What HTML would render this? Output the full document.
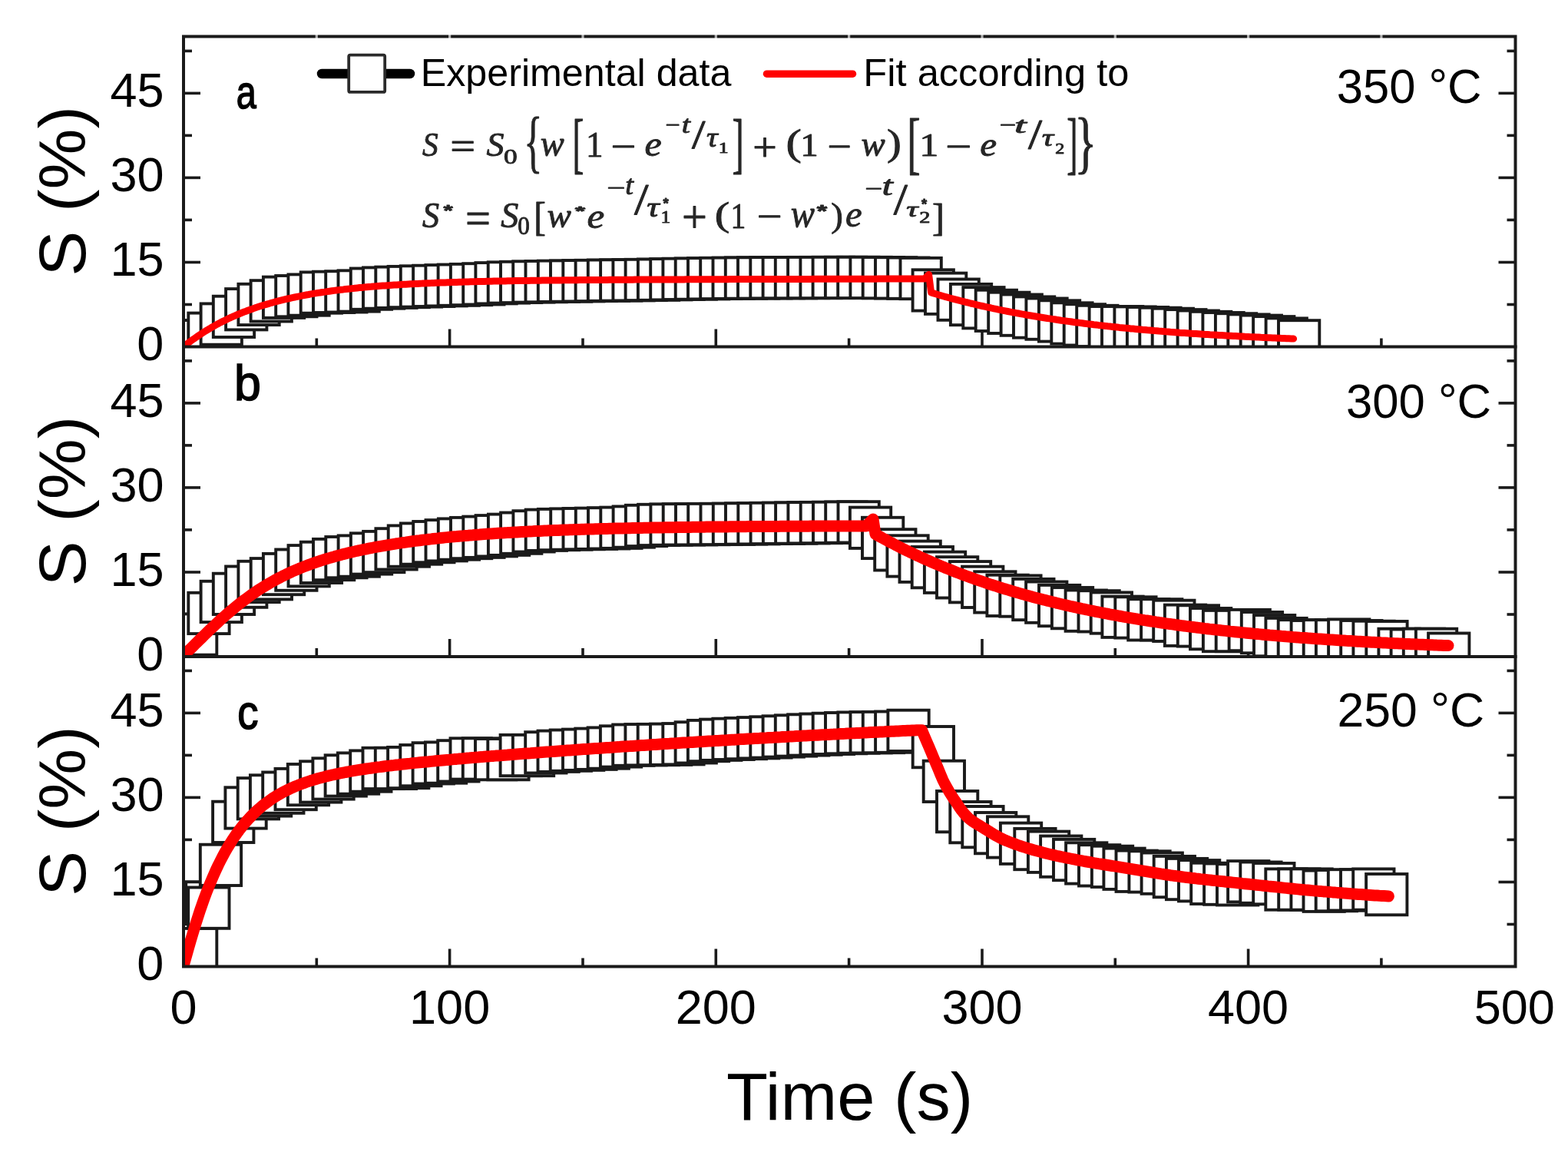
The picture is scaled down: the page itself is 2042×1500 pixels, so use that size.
<!DOCTYPE html>
<html><head><meta charset="utf-8"><title>S vs time</title>
<style>html,body{margin:0;padding:0;background:#fff;} svg{display:block;}</style>
</head><body>
<svg xmlns="http://www.w3.org/2000/svg" width="2042" height="1500" viewBox="0 0 2042 1500">
<defs>
<clipPath id="cp0"><rect x="239.0" y="47.5" width="1734.5" height="404.0"/></clipPath>
<clipPath id="cp1"><rect x="239.0" y="451.5" width="1734.5" height="403.5"/></clipPath>
<clipPath id="cp2"><rect x="239.0" y="855.0" width="1734.5" height="403.5"/></clipPath>
</defs>
<rect width="2042" height="1500" fill="#fff"/>
<g stroke="#1a1a1a" stroke-width="3.6" fill="none">
<line x1="239.0" y1="396.5" x2="250.0" y2="396.5"/>
<line x1="1973.5" y1="396.5" x2="1962.5" y2="396.5"/>
<line x1="239.0" y1="341.5" x2="261.0" y2="341.5"/>
<line x1="1973.5" y1="341.5" x2="1951.5" y2="341.5"/>
<line x1="239.0" y1="286.4" x2="250.0" y2="286.4"/>
<line x1="1973.5" y1="286.4" x2="1962.5" y2="286.4"/>
<line x1="239.0" y1="231.4" x2="261.0" y2="231.4"/>
<line x1="1973.5" y1="231.4" x2="1951.5" y2="231.4"/>
<line x1="239.0" y1="176.4" x2="250.0" y2="176.4"/>
<line x1="1973.5" y1="176.4" x2="1962.5" y2="176.4"/>
<line x1="239.0" y1="121.4" x2="261.0" y2="121.4"/>
<line x1="1973.5" y1="121.4" x2="1951.5" y2="121.4"/>
<line x1="239.0" y1="66.4" x2="250.0" y2="66.4"/>
<line x1="1973.5" y1="66.4" x2="1962.5" y2="66.4"/>
<line x1="412.3" y1="451.5" x2="412.3" y2="440.5"/>
<line x1="585.6" y1="451.5" x2="585.6" y2="428.5"/>
<line x1="759.0" y1="451.5" x2="759.0" y2="440.5"/>
<line x1="932.3" y1="451.5" x2="932.3" y2="428.5"/>
<line x1="1105.6" y1="451.5" x2="1105.6" y2="440.5"/>
<line x1="1279.0" y1="451.5" x2="1279.0" y2="428.5"/>
<line x1="1452.3" y1="451.5" x2="1452.3" y2="440.5"/>
<line x1="1625.6" y1="451.5" x2="1625.6" y2="428.5"/>
<line x1="1798.9" y1="451.5" x2="1798.9" y2="440.5"/>
<line x1="239.0" y1="800.0" x2="250.0" y2="800.0"/>
<line x1="1973.5" y1="800.0" x2="1962.5" y2="800.0"/>
<line x1="239.0" y1="745.0" x2="261.0" y2="745.0"/>
<line x1="1973.5" y1="745.0" x2="1951.5" y2="745.0"/>
<line x1="239.0" y1="689.9" x2="250.0" y2="689.9"/>
<line x1="1973.5" y1="689.9" x2="1962.5" y2="689.9"/>
<line x1="239.0" y1="634.9" x2="261.0" y2="634.9"/>
<line x1="1973.5" y1="634.9" x2="1951.5" y2="634.9"/>
<line x1="239.0" y1="579.9" x2="250.0" y2="579.9"/>
<line x1="1973.5" y1="579.9" x2="1962.5" y2="579.9"/>
<line x1="239.0" y1="524.9" x2="261.0" y2="524.9"/>
<line x1="1973.5" y1="524.9" x2="1951.5" y2="524.9"/>
<line x1="239.0" y1="469.9" x2="250.0" y2="469.9"/>
<line x1="1973.5" y1="469.9" x2="1962.5" y2="469.9"/>
<line x1="412.3" y1="855.0" x2="412.3" y2="844.0"/>
<line x1="585.6" y1="855.0" x2="585.6" y2="832.0"/>
<line x1="759.0" y1="855.0" x2="759.0" y2="844.0"/>
<line x1="932.3" y1="855.0" x2="932.3" y2="832.0"/>
<line x1="1105.6" y1="855.0" x2="1105.6" y2="844.0"/>
<line x1="1279.0" y1="855.0" x2="1279.0" y2="832.0"/>
<line x1="1452.3" y1="855.0" x2="1452.3" y2="844.0"/>
<line x1="1625.6" y1="855.0" x2="1625.6" y2="832.0"/>
<line x1="1798.9" y1="855.0" x2="1798.9" y2="844.0"/>
<line x1="239.0" y1="1203.5" x2="250.0" y2="1203.5"/>
<line x1="1973.5" y1="1203.5" x2="1962.5" y2="1203.5"/>
<line x1="239.0" y1="1148.5" x2="261.0" y2="1148.5"/>
<line x1="1973.5" y1="1148.5" x2="1951.5" y2="1148.5"/>
<line x1="239.0" y1="1093.4" x2="250.0" y2="1093.4"/>
<line x1="1973.5" y1="1093.4" x2="1962.5" y2="1093.4"/>
<line x1="239.0" y1="1038.4" x2="261.0" y2="1038.4"/>
<line x1="1973.5" y1="1038.4" x2="1951.5" y2="1038.4"/>
<line x1="239.0" y1="983.4" x2="250.0" y2="983.4"/>
<line x1="1973.5" y1="983.4" x2="1962.5" y2="983.4"/>
<line x1="239.0" y1="928.4" x2="261.0" y2="928.4"/>
<line x1="1973.5" y1="928.4" x2="1951.5" y2="928.4"/>
<line x1="239.0" y1="873.4" x2="250.0" y2="873.4"/>
<line x1="1973.5" y1="873.4" x2="1962.5" y2="873.4"/>
<line x1="412.3" y1="1258.5" x2="412.3" y2="1247.5"/>
<line x1="585.6" y1="1258.5" x2="585.6" y2="1235.5"/>
<line x1="759.0" y1="1258.5" x2="759.0" y2="1247.5"/>
<line x1="932.3" y1="1258.5" x2="932.3" y2="1235.5"/>
<line x1="1105.6" y1="1258.5" x2="1105.6" y2="1247.5"/>
<line x1="1279.0" y1="1258.5" x2="1279.0" y2="1235.5"/>
<line x1="1452.3" y1="1258.5" x2="1452.3" y2="1247.5"/>
<line x1="1625.6" y1="1258.5" x2="1625.6" y2="1235.5"/>
<line x1="1798.9" y1="1258.5" x2="1798.9" y2="1247.5"/>
</g>
<g clip-path="url(#cp0)">
<g fill="#fff" stroke="#1a1a1a" stroke-width="3.9">
<rect x="212.3" y="422.9" width="53.3" height="53.3"/>
<rect x="228.7" y="417.0" width="53.3" height="53.3"/>
<rect x="245.3" y="407.6" width="53.3" height="53.3"/>
<rect x="261.6" y="395.4" width="53.3" height="53.3"/>
<rect x="277.8" y="385.7" width="53.3" height="53.3"/>
<rect x="294.1" y="376.1" width="53.3" height="53.3"/>
<rect x="310.4" y="369.8" width="53.3" height="53.3"/>
<rect x="326.6" y="365.2" width="53.3" height="53.3"/>
<rect x="342.9" y="360.6" width="53.3" height="53.3"/>
<rect x="359.2" y="359.0" width="53.3" height="53.3"/>
<rect x="375.4" y="357.4" width="53.3" height="53.3"/>
<rect x="391.7" y="354.4" width="53.3" height="53.3"/>
<rect x="408.0" y="353.7" width="53.3" height="53.3"/>
<rect x="424.2" y="353.2" width="53.3" height="53.3"/>
<rect x="440.5" y="352.3" width="53.3" height="53.3"/>
<rect x="456.8" y="349.5" width="53.3" height="53.3"/>
<rect x="473.0" y="348.4" width="53.3" height="53.3"/>
<rect x="489.3" y="347.6" width="53.3" height="53.3"/>
<rect x="505.6" y="346.9" width="53.3" height="53.3"/>
<rect x="521.8" y="346.3" width="53.3" height="53.3"/>
<rect x="538.1" y="345.7" width="53.3" height="53.3"/>
<rect x="554.4" y="345.1" width="53.3" height="53.3"/>
<rect x="570.6" y="344.5" width="53.3" height="53.3"/>
<rect x="586.9" y="343.9" width="53.3" height="53.3"/>
<rect x="603.2" y="343.2" width="53.3" height="53.3"/>
<rect x="619.4" y="342.1" width="53.3" height="53.3"/>
<rect x="635.7" y="341.3" width="53.3" height="53.3"/>
<rect x="652.0" y="340.8" width="53.3" height="53.3"/>
<rect x="668.2" y="340.3" width="53.3" height="53.3"/>
<rect x="684.5" y="340.0" width="53.3" height="53.3"/>
<rect x="700.8" y="339.6" width="53.3" height="53.3"/>
<rect x="717.0" y="339.4" width="53.3" height="53.3"/>
<rect x="733.3" y="339.1" width="53.3" height="53.3"/>
<rect x="749.6" y="338.8" width="53.3" height="53.3"/>
<rect x="765.8" y="338.5" width="53.3" height="53.3"/>
<rect x="782.1" y="338.3" width="53.3" height="53.3"/>
<rect x="798.4" y="338.1" width="53.3" height="53.3"/>
<rect x="814.6" y="337.8" width="53.3" height="53.3"/>
<rect x="830.9" y="337.5" width="53.3" height="53.3"/>
<rect x="847.2" y="337.1" width="53.3" height="53.3"/>
<rect x="863.4" y="336.7" width="53.3" height="53.3"/>
<rect x="879.7" y="336.4" width="53.3" height="53.3"/>
<rect x="896.0" y="336.1" width="53.3" height="53.3"/>
<rect x="912.2" y="335.8" width="53.3" height="53.3"/>
<rect x="928.5" y="335.6" width="53.3" height="53.3"/>
<rect x="944.8" y="335.4" width="53.3" height="53.3"/>
<rect x="961.0" y="335.3" width="53.3" height="53.3"/>
<rect x="977.3" y="335.1" width="53.3" height="53.3"/>
<rect x="993.6" y="335.0" width="53.3" height="53.3"/>
<rect x="1009.8" y="335.0" width="53.3" height="53.3"/>
<rect x="1026.1" y="334.9" width="53.3" height="53.3"/>
<rect x="1042.4" y="334.9" width="53.3" height="53.3"/>
<rect x="1058.6" y="334.8" width="53.3" height="53.3"/>
<rect x="1074.9" y="334.8" width="53.3" height="53.3"/>
<rect x="1091.2" y="334.8" width="53.3" height="53.3"/>
<rect x="1107.4" y="334.8" width="53.3" height="53.3"/>
<rect x="1123.7" y="335.0" width="53.3" height="53.3"/>
<rect x="1140.0" y="335.2" width="53.3" height="53.3"/>
<rect x="1156.2" y="335.5" width="53.3" height="53.3"/>
<rect x="1172.5" y="335.9" width="53.3" height="53.3"/>
<rect x="1188.6" y="351.3" width="53.3" height="53.3"/>
<rect x="1205.0" y="355.6" width="53.3" height="53.3"/>
<rect x="1221.5" y="363.5" width="53.3" height="53.3"/>
<rect x="1237.9" y="369.9" width="53.3" height="53.3"/>
<rect x="1254.3" y="374.1" width="53.3" height="53.3"/>
<rect x="1270.7" y="377.7" width="53.3" height="53.3"/>
<rect x="1287.2" y="380.7" width="53.3" height="53.3"/>
<rect x="1303.6" y="383.5" width="53.3" height="53.3"/>
<rect x="1320.0" y="386.4" width="53.3" height="53.3"/>
<rect x="1336.4" y="388.5" width="53.3" height="53.3"/>
<rect x="1352.9" y="391.3" width="53.3" height="53.3"/>
<rect x="1369.3" y="394.3" width="53.3" height="53.3"/>
<rect x="1385.7" y="396.2" width="53.3" height="53.3"/>
<rect x="1402.2" y="397.8" width="53.3" height="53.3"/>
<rect x="1418.6" y="399.0" width="53.3" height="53.3"/>
<rect x="1435.0" y="399.0" width="53.3" height="53.3"/>
<rect x="1451.4" y="399.4" width="53.3" height="53.3"/>
<rect x="1467.9" y="400.0" width="53.3" height="53.3"/>
<rect x="1484.3" y="400.7" width="53.3" height="53.3"/>
<rect x="1500.7" y="401.7" width="53.3" height="53.3"/>
<rect x="1517.2" y="403.1" width="53.3" height="53.3"/>
<rect x="1533.6" y="404.5" width="53.3" height="53.3"/>
<rect x="1550.0" y="405.8" width="53.3" height="53.3"/>
<rect x="1566.4" y="407.0" width="53.3" height="53.3"/>
<rect x="1582.9" y="408.2" width="53.3" height="53.3"/>
<rect x="1599.3" y="409.4" width="53.3" height="53.3"/>
<rect x="1615.7" y="410.6" width="53.3" height="53.3"/>
<rect x="1632.1" y="412.1" width="53.3" height="53.3"/>
<rect x="1648.6" y="414.4" width="53.3" height="53.3"/>
<rect x="1665.0" y="417.2" width="53.3" height="53.3"/>
</g>
<path d="M239.0,451.5 L242.0,449.1 L245.0,446.7 L248.0,444.4 L251.1,442.2 L254.1,440.1 L257.1,438.0 L260.1,435.9 L263.1,433.9 L266.1,432.0 L269.2,430.1 L272.2,428.3 L275.2,426.5 L278.2,424.8 L281.2,423.1 L284.2,421.5 L287.2,419.9 L290.3,418.4 L293.3,416.9 L296.3,415.4 L299.3,414.0 L302.3,412.7 L305.3,411.3 L308.4,410.0 L311.4,408.7 L314.4,407.5 L317.4,406.3 L320.4,405.2 L323.4,404.0 L326.5,402.9 L329.5,401.9 L332.5,400.8 L335.5,399.8 L338.5,398.8 L341.5,397.9 L344.5,397.0 L347.6,396.1 L350.6,395.2 L353.6,394.3 L356.6,393.5 L359.6,392.7 L362.6,391.9 L365.7,391.1 L368.7,390.4 L371.7,389.7 L374.7,389.0 L377.7,388.3 L380.7,387.6 L383.8,387.0 L386.8,386.4 L389.8,385.8 L392.8,385.2 L395.8,384.6 L398.8,384.0 L401.8,383.5 L404.9,382.9 L407.9,382.4 L410.9,381.9 L413.9,381.4 L416.9,381.0 L419.9,380.5 L423.0,380.1 L426.0,379.6 L429.0,379.2 L432.0,378.8 L435.0,378.4 L438.0,378.0 L441.0,377.6 L444.1,377.2 L447.1,376.9 L450.1,376.5 L453.1,376.2 L456.1,375.9 L459.1,375.6 L462.2,375.2 L465.2,374.9 L468.2,374.6 L471.2,374.4 L474.2,374.1 L477.2,373.8 L480.2,373.5 L483.3,373.3 L486.3,373.0 L489.3,372.8 L492.3,372.5 L495.3,372.3 L498.3,372.1 L501.4,371.9 L504.4,371.7 L507.4,371.5 L510.4,371.3 L513.4,371.1 L516.4,370.9 L519.5,370.7 L522.5,370.5 L525.5,370.3 L528.5,370.2 L531.5,370.0 L534.5,369.8 L537.5,369.7 L540.6,369.5 L543.6,369.4 L546.6,369.2 L549.6,369.1 L552.6,368.9 L555.6,368.8 L558.7,368.7 L561.7,368.6 L564.7,368.4 L567.7,368.3 L570.7,368.2 L573.7,368.1 L576.8,368.0 L579.8,367.9 L582.8,367.8 L585.8,367.7 L588.8,367.6 L591.8,367.5 L594.8,367.4 L597.9,367.3 L600.9,367.2 L603.9,367.1 L606.9,367.0 L609.9,366.9 L612.9,366.8 L616.0,366.8 L619.0,366.7 L622.0,366.6 L625.0,366.5 L628.0,366.5 L631.0,366.4 L634.0,366.3 L637.1,366.3 L640.1,366.2 L643.1,366.1 L646.1,366.1 L649.1,366.0 L652.1,366.0 L655.2,365.9 L658.2,365.9 L661.2,365.8 L664.2,365.7 L667.2,365.7 L670.2,365.6 L673.2,365.6 L676.3,365.6 L679.3,365.5 L682.3,365.5 L685.3,365.4 L688.3,365.4 L691.3,365.3 L694.4,365.3 L697.4,365.2 L700.4,365.2 L703.4,365.2 L706.4,365.1 L709.4,365.1 L712.5,365.1 L715.5,365.0 L718.5,365.0 L721.5,365.0 L724.5,364.9 L727.5,364.9 L730.5,364.9 L733.6,364.8 L736.6,364.8 L739.6,364.8 L742.6,364.7 L745.6,364.7 L748.6,364.7 L751.7,364.7 L754.7,364.6 L757.7,364.6 L760.7,364.6 L763.7,364.6 L766.7,364.5 L769.8,364.5 L772.8,364.5 L775.8,364.5 L778.8,364.4 L781.8,364.4 L784.8,364.4 L787.8,364.4 L790.9,364.4 L793.9,364.3 L796.9,364.3 L799.9,364.3 L802.9,364.3 L805.9,364.3 L809.0,364.3 L812.0,364.2 L815.0,364.2 L818.0,364.2 L821.0,364.2 L824.0,364.2 L827.0,364.1 L830.1,364.1 L833.1,364.1 L836.1,364.1 L839.1,364.1 L842.1,364.1 L845.1,364.1 L848.2,364.0 L851.2,364.0 L854.2,364.0 L857.2,364.0 L860.2,364.0 L863.2,364.0 L866.2,364.0 L869.3,363.9 L872.3,363.9 L875.3,363.9 L878.3,363.9 L881.3,363.9 L884.3,363.9 L887.4,363.9 L890.4,363.9 L893.4,363.8 L896.4,363.8 L899.4,363.8 L902.4,363.8 L905.5,363.8 L908.5,363.8 L911.5,363.8 L914.5,363.8 L917.5,363.8 L920.5,363.7 L923.5,363.7 L926.6,363.7 L929.6,363.7 L932.6,363.7 L935.6,363.7 L938.6,363.7 L941.6,363.7 L944.7,363.7 L947.7,363.7 L950.7,363.6 L953.7,363.6 L956.7,363.6 L959.7,363.6 L962.8,363.6 L965.8,363.6 L968.8,363.6 L971.8,363.6 L974.8,363.6 L977.8,363.6 L980.8,363.6 L983.9,363.5 L986.9,363.5 L989.9,363.5 L992.9,363.5 L995.9,363.5 L998.9,363.5 L1002.0,363.5 L1005.0,363.5 L1008.0,363.5 L1011.0,363.5 L1014.0,363.5 L1017.0,363.5 L1020.0,363.4 L1023.1,363.4 L1026.1,363.4 L1029.1,363.4 L1032.1,363.4 L1035.1,363.4 L1038.1,363.4 L1041.2,363.4 L1044.2,363.4 L1047.2,363.4 L1050.2,363.4 L1053.2,363.4 L1056.2,363.4 L1059.2,363.3 L1062.3,363.3 L1065.3,363.3 L1068.3,363.3 L1071.3,363.3 L1074.3,363.3 L1077.3,363.3 L1080.4,363.3 L1083.4,363.3 L1086.4,363.3 L1089.4,363.3 L1092.4,363.3 L1095.4,363.3 L1098.5,363.3 L1101.5,363.2 L1104.5,363.2 L1107.5,363.2 L1110.5,363.2 L1113.5,363.2 L1116.5,363.2 L1119.6,363.2 L1122.6,363.2 L1125.6,363.2 L1128.6,363.2 L1131.6,363.2 L1134.6,363.2 L1137.7,363.2 L1140.7,363.2 L1143.7,363.1 L1146.7,363.1 L1149.7,363.1 L1152.7,363.1 L1155.8,363.1 L1158.8,363.1 L1161.8,363.1 L1164.8,363.1 L1167.8,363.1 L1170.8,363.1 L1173.8,363.1 L1176.9,363.1 L1179.9,363.1 L1182.9,363.1 L1185.9,363.1 L1188.9,363.0 L1191.9,363.0 L1195.0,363.0 L1198.0,363.0 L1201.0,363.0 L1204.0,363.0 L1209.6,357.5 L1209.6,357.5 L1212.6,380.9 L1215.7,381.9 L1218.7,382.8 L1221.7,383.7 L1224.7,384.6 L1227.8,385.5 L1230.8,386.3 L1233.8,387.1 L1236.8,388.0 L1239.9,388.8 L1242.9,389.6 L1245.9,390.4 L1248.9,391.2 L1252.0,392.0 L1255.0,392.7 L1258.0,393.5 L1261.0,394.2 L1264.1,395.0 L1267.1,395.7 L1270.1,396.4 L1273.1,397.1 L1276.2,397.8 L1279.2,398.5 L1282.2,399.2 L1285.2,399.8 L1288.3,400.5 L1291.3,401.2 L1294.3,401.8 L1297.3,402.4 L1300.4,403.1 L1303.4,403.7 L1306.4,404.3 L1309.4,404.9 L1312.5,405.5 L1315.5,406.1 L1318.5,406.7 L1321.5,407.2 L1324.6,407.8 L1327.6,408.3 L1330.6,408.9 L1333.6,409.4 L1336.7,410.0 L1339.7,410.5 L1342.7,411.0 L1345.7,411.5 L1348.8,412.0 L1351.8,412.5 L1354.8,413.0 L1357.8,413.5 L1360.9,414.0 L1363.9,414.5 L1366.9,414.9 L1370.0,415.4 L1373.0,415.8 L1376.0,416.3 L1379.0,416.7 L1382.1,417.2 L1385.1,417.6 L1388.1,418.0 L1391.1,418.4 L1394.2,418.8 L1397.2,419.3 L1400.2,419.7 L1403.2,420.0 L1406.3,420.4 L1409.3,420.8 L1412.3,421.2 L1415.3,421.6 L1418.4,422.0 L1421.4,422.3 L1424.4,422.7 L1427.4,423.0 L1430.5,423.4 L1433.5,423.7 L1436.5,424.1 L1439.5,424.4 L1442.6,424.8 L1445.6,425.1 L1448.6,425.4 L1451.6,425.7 L1454.7,426.0 L1457.7,426.4 L1460.7,426.7 L1463.7,427.0 L1466.8,427.3 L1469.8,427.6 L1472.8,427.9 L1475.8,428.1 L1478.9,428.4 L1481.9,428.7 L1484.9,429.0 L1487.9,429.3 L1491.0,429.5 L1494.0,429.8 L1497.0,430.0 L1500.0,430.3 L1503.1,430.6 L1506.1,430.8 L1509.1,431.1 L1512.1,431.3 L1515.2,431.5 L1518.2,431.8 L1521.2,432.0 L1524.2,432.3 L1527.3,432.5 L1530.3,432.7 L1533.3,432.9 L1536.4,433.2 L1539.4,433.4 L1542.4,433.6 L1545.4,433.8 L1548.5,434.0 L1551.5,434.2 L1554.5,434.4 L1557.5,434.6 L1560.6,434.8 L1563.6,435.0 L1566.6,435.2 L1569.6,435.4 L1572.7,435.6 L1575.7,435.8 L1578.7,435.9 L1581.7,436.1 L1584.8,436.3 L1587.8,436.5 L1590.8,436.6 L1593.8,436.8 L1596.9,437.0 L1599.9,437.2 L1602.9,437.3 L1605.9,437.5 L1609.0,437.6 L1612.0,437.8 L1615.0,438.0 L1618.0,438.1 L1621.1,438.3 L1624.1,438.4 L1627.1,438.6 L1630.1,438.7 L1633.2,438.8 L1636.2,439.0 L1639.2,439.1 L1642.2,439.3 L1645.3,439.4 L1648.3,439.5 L1651.3,439.7 L1654.3,439.8 L1657.4,439.9 L1660.4,440.0 L1663.4,440.2 L1666.4,440.3 L1669.5,440.4 L1672.5,440.5 L1675.5,440.7 L1678.5,440.8 L1681.6,440.9 L1684.6,441.0" fill="none" stroke="#ff0000" stroke-width="9.0" stroke-linecap="round" stroke-linejoin="round"/>
</g>
<g clip-path="url(#cp1)">
<g fill="#fff" stroke="#1a1a1a" stroke-width="3.9">
<rect x="212.3" y="826.4" width="53.3" height="53.3"/>
<rect x="229.0" y="799.4" width="53.3" height="53.3"/>
<rect x="245.3" y="771.8" width="53.3" height="53.3"/>
<rect x="261.6" y="756.8" width="53.3" height="53.3"/>
<rect x="277.8" y="746.7" width="53.3" height="53.3"/>
<rect x="294.1" y="737.5" width="53.3" height="53.3"/>
<rect x="310.4" y="730.8" width="53.3" height="53.3"/>
<rect x="326.7" y="727.1" width="53.3" height="53.3"/>
<rect x="342.9" y="720.9" width="53.3" height="53.3"/>
<rect x="359.2" y="715.5" width="53.3" height="53.3"/>
<rect x="375.5" y="710.1" width="53.3" height="53.3"/>
<rect x="391.8" y="705.7" width="53.3" height="53.3"/>
<rect x="408.0" y="701.9" width="53.3" height="53.3"/>
<rect x="424.3" y="699.0" width="53.3" height="53.3"/>
<rect x="440.6" y="697.4" width="53.3" height="53.3"/>
<rect x="456.9" y="694.3" width="53.3" height="53.3"/>
<rect x="473.1" y="691.9" width="53.3" height="53.3"/>
<rect x="489.4" y="688.2" width="53.3" height="53.3"/>
<rect x="505.7" y="684.4" width="53.3" height="53.3"/>
<rect x="521.9" y="681.4" width="53.3" height="53.3"/>
<rect x="538.2" y="679.0" width="53.3" height="53.3"/>
<rect x="554.5" y="677.1" width="53.3" height="53.3"/>
<rect x="570.8" y="675.4" width="53.3" height="53.3"/>
<rect x="587.0" y="673.9" width="53.3" height="53.3"/>
<rect x="603.3" y="672.6" width="53.3" height="53.3"/>
<rect x="619.6" y="671.1" width="53.3" height="53.3"/>
<rect x="635.9" y="669.6" width="53.3" height="53.3"/>
<rect x="652.1" y="667.5" width="53.3" height="53.3"/>
<rect x="668.4" y="665.2" width="53.3" height="53.3"/>
<rect x="684.7" y="663.6" width="53.3" height="53.3"/>
<rect x="700.9" y="662.9" width="53.3" height="53.3"/>
<rect x="717.2" y="662.4" width="53.3" height="53.3"/>
<rect x="733.5" y="662.0" width="53.3" height="53.3"/>
<rect x="749.8" y="661.6" width="53.3" height="53.3"/>
<rect x="766.0" y="661.2" width="53.3" height="53.3"/>
<rect x="782.3" y="660.6" width="53.3" height="53.3"/>
<rect x="798.6" y="659.4" width="53.3" height="53.3"/>
<rect x="814.9" y="657.8" width="53.3" height="53.3"/>
<rect x="831.1" y="656.8" width="53.3" height="53.3"/>
<rect x="847.4" y="656.4" width="53.3" height="53.3"/>
<rect x="863.7" y="656.2" width="53.3" height="53.3"/>
<rect x="880.0" y="656.1" width="53.3" height="53.3"/>
<rect x="896.2" y="655.9" width="53.3" height="53.3"/>
<rect x="912.5" y="655.8" width="53.3" height="53.3"/>
<rect x="928.8" y="655.6" width="53.3" height="53.3"/>
<rect x="945.0" y="655.3" width="53.3" height="53.3"/>
<rect x="961.3" y="655.1" width="53.3" height="53.3"/>
<rect x="977.6" y="654.8" width="53.3" height="53.3"/>
<rect x="993.9" y="654.6" width="53.3" height="53.3"/>
<rect x="1010.1" y="654.4" width="53.3" height="53.3"/>
<rect x="1026.4" y="654.1" width="53.3" height="53.3"/>
<rect x="1042.7" y="653.9" width="53.3" height="53.3"/>
<rect x="1059.0" y="653.7" width="53.3" height="53.3"/>
<rect x="1075.2" y="653.4" width="53.3" height="53.3"/>
<rect x="1091.5" y="653.2" width="53.3" height="53.3"/>
<rect x="1106.9" y="660.6" width="53.3" height="53.3"/>
<rect x="1123.0" y="673.8" width="53.3" height="53.3"/>
<rect x="1139.2" y="689.2" width="53.3" height="53.3"/>
<rect x="1155.4" y="697.3" width="53.3" height="53.3"/>
<rect x="1171.5" y="704.6" width="53.3" height="53.3"/>
<rect x="1187.7" y="712.0" width="53.3" height="53.3"/>
<rect x="1203.9" y="718.6" width="53.3" height="53.3"/>
<rect x="1220.0" y="725.2" width="53.3" height="53.3"/>
<rect x="1236.9" y="731.1" width="53.3" height="53.3"/>
<rect x="1253.1" y="737.7" width="53.3" height="53.3"/>
<rect x="1269.2" y="744.3" width="53.3" height="53.3"/>
<rect x="1285.4" y="748.7" width="53.3" height="53.3"/>
<rect x="1302.3" y="749.4" width="53.3" height="53.3"/>
<rect x="1319.2" y="753.9" width="53.3" height="53.3"/>
<rect x="1336.1" y="757.5" width="53.3" height="53.3"/>
<rect x="1353.0" y="761.9" width="53.3" height="53.3"/>
<rect x="1369.9" y="765.0" width="53.3" height="53.3"/>
<rect x="1387.6" y="768.5" width="53.3" height="53.3"/>
<rect x="1404.5" y="769.2" width="53.3" height="53.3"/>
<rect x="1420.7" y="771.4" width="53.3" height="53.3"/>
<rect x="1435.4" y="776.6" width="53.3" height="53.3"/>
<rect x="1452.3" y="777.3" width="53.3" height="53.3"/>
<rect x="1469.2" y="780.2" width="53.3" height="53.3"/>
<rect x="1486.1" y="780.2" width="53.3" height="53.3"/>
<rect x="1502.2" y="781.7" width="53.3" height="53.3"/>
<rect x="1516.9" y="787.6" width="53.3" height="53.3"/>
<rect x="1533.8" y="788.3" width="53.3" height="53.3"/>
<rect x="1550.0" y="792.0" width="53.3" height="53.3"/>
<rect x="1566.9" y="794.9" width="53.3" height="53.3"/>
<rect x="1583.7" y="794.9" width="53.3" height="53.3"/>
<rect x="1600.6" y="793.9" width="53.3" height="53.3"/>
<rect x="1616.8" y="797.0" width="53.3" height="53.3"/>
<rect x="1633.0" y="801.0" width="53.3" height="53.3"/>
<rect x="1648.4" y="804.9" width="53.3" height="53.3"/>
<rect x="1664.7" y="807.2" width="53.3" height="53.3"/>
<rect x="1681.6" y="808.0" width="53.3" height="53.3"/>
<rect x="1697.7" y="807.2" width="53.3" height="53.3"/>
<rect x="1713.9" y="807.2" width="53.3" height="53.3"/>
<rect x="1730.1" y="806.4" width="53.3" height="53.3"/>
<rect x="1746.2" y="808.0" width="53.3" height="53.3"/>
<rect x="1762.4" y="808.7" width="53.3" height="53.3"/>
<rect x="1779.3" y="809.0" width="53.3" height="53.3"/>
<rect x="1795.4" y="818.7" width="53.3" height="53.3"/>
<rect x="1811.6" y="819.5" width="53.3" height="53.3"/>
<rect x="1827.8" y="818.7" width="53.3" height="53.3"/>
<rect x="1843.9" y="818.7" width="53.3" height="53.3"/>
<rect x="1860.1" y="824.5" width="53.3" height="53.3"/>
</g>
<path d="M239.0,853.5 L242.0,850.6 L245.0,847.7 L248.0,844.8 L251.1,841.8 L254.1,838.8 L257.1,835.9 L260.1,832.9 L263.1,830.0 L266.1,827.0 L269.1,824.1 L272.1,821.2 L275.2,818.3 L278.2,815.5 L281.2,812.6 L284.2,809.9 L287.2,807.1 L290.2,804.4 L293.2,801.7 L296.3,799.1 L299.3,796.5 L302.3,794.0 L305.3,791.5 L308.3,789.0 L311.3,786.6 L314.3,784.3 L317.4,781.9 L320.4,779.7 L323.4,777.5 L326.4,775.3 L329.4,773.2 L332.4,771.1 L335.4,769.1 L338.4,767.1 L341.5,765.2 L344.5,763.3 L347.5,761.5 L350.5,759.7 L353.5,758.0 L356.5,756.3 L359.5,754.6 L362.6,753.0 L365.6,751.5 L368.6,749.9 L371.6,748.5 L374.6,747.0 L377.6,745.6 L380.6,744.2 L383.7,742.9 L386.7,741.6 L389.7,740.3 L392.7,739.1 L395.7,737.9 L398.7,736.7 L401.7,735.6 L404.7,734.5 L407.8,733.4 L410.8,732.4 L413.8,731.3 L416.8,730.3 L419.8,729.4 L422.8,728.4 L425.8,727.5 L428.9,726.6 L431.9,725.7 L434.9,724.9 L437.9,724.0 L440.9,723.2 L443.9,722.4 L446.9,721.6 L449.9,720.9 L453.0,720.1 L456.0,719.4 L459.0,718.7 L462.0,718.0 L465.0,717.3 L468.0,716.7 L471.0,716.0 L474.1,715.4 L477.1,714.8 L480.1,714.2 L483.1,713.6 L486.1,713.0 L489.1,712.4 L492.1,711.9 L495.2,711.3 L498.2,710.8 L501.2,710.3 L504.2,709.8 L507.2,709.3 L510.2,708.8 L513.2,708.3 L516.2,707.8 L519.3,707.4 L522.3,706.9 L525.3,706.5 L528.3,706.1 L531.3,705.6 L534.3,705.2 L537.3,704.8 L540.4,704.4 L543.4,704.0 L546.4,703.7 L549.4,703.3 L552.4,702.9 L555.4,702.6 L558.4,702.2 L561.5,701.9 L564.5,701.5 L567.5,701.2 L570.5,700.9 L573.5,700.5 L576.5,700.2 L579.5,699.9 L582.5,699.6 L585.6,699.3 L588.6,699.0 L591.6,698.7 L594.6,698.5 L597.6,698.2 L600.6,697.9 L603.6,697.7 L606.7,697.4 L609.7,697.2 L612.7,696.9 L615.7,696.7 L618.7,696.4 L621.7,696.2 L624.7,696.0 L627.7,695.7 L630.8,695.5 L633.8,695.3 L636.8,695.1 L639.8,694.9 L642.8,694.7 L645.8,694.5 L648.8,694.3 L651.9,694.1 L654.9,693.9 L657.9,693.7 L660.9,693.6 L663.9,693.4 L666.9,693.2 L669.9,693.0 L673.0,692.9 L676.0,692.7 L679.0,692.5 L682.0,692.4 L685.0,692.2 L688.0,692.1 L691.0,691.9 L694.0,691.8 L697.1,691.6 L700.1,691.5 L703.1,691.4 L706.1,691.2 L709.1,691.1 L712.1,691.0 L715.1,690.8 L718.2,690.7 L721.2,690.6 L724.2,690.5 L727.2,690.4 L730.2,690.2 L733.2,690.1 L736.2,690.0 L739.3,689.9 L742.3,689.8 L745.3,689.7 L748.3,689.6 L751.3,689.5 L754.3,689.4 L757.3,689.3 L760.3,689.2 L763.4,689.1 L766.4,689.0 L769.4,688.9 L772.4,688.9 L775.4,688.8 L778.4,688.7 L781.4,688.6 L784.5,688.5 L787.5,688.4 L790.5,688.4 L793.5,688.3 L796.5,688.2 L799.5,688.1 L802.5,688.1 L805.5,688.0 L808.6,687.9 L811.6,687.9 L814.6,687.8 L817.6,687.7 L820.6,687.7 L823.6,687.6 L826.6,687.5 L829.7,687.5 L832.7,687.4 L835.7,687.4 L838.7,687.3 L841.7,687.3 L844.7,687.2 L847.7,687.1 L850.8,687.1 L853.8,687.0 L856.8,687.0 L859.8,686.9 L862.8,686.9 L865.8,686.8 L868.8,686.8 L871.8,686.8 L874.9,686.7 L877.9,686.7 L880.9,686.6 L883.9,686.6 L886.9,686.5 L889.9,686.5 L892.9,686.5 L896.0,686.4 L899.0,686.4 L902.0,686.3 L905.0,686.3 L908.0,686.3 L911.0,686.2 L914.0,686.2 L917.1,686.2 L920.1,686.1 L923.1,686.1 L926.1,686.1 L929.1,686.0 L932.1,686.0 L935.1,686.0 L938.1,685.9 L941.2,685.9 L944.2,685.9 L947.2,685.9 L950.2,685.8 L953.2,685.8 L956.2,685.8 L959.2,685.8 L962.3,685.7 L965.3,685.7 L968.3,685.7 L971.3,685.7 L974.3,685.6 L977.3,685.6 L980.3,685.6 L983.3,685.6 L986.4,685.5 L989.4,685.5 L992.4,685.5 L995.4,685.5 L998.4,685.5 L1001.4,685.4 L1004.4,685.4 L1007.5,685.4 L1010.5,685.4 L1013.5,685.4 L1016.5,685.3 L1019.5,685.3 L1022.5,685.3 L1025.5,685.3 L1028.6,685.3 L1031.6,685.3 L1034.6,685.2 L1037.6,685.2 L1040.6,685.2 L1043.6,685.2 L1046.6,685.2 L1049.6,685.2 L1052.7,685.2 L1055.7,685.1 L1058.7,685.1 L1061.7,685.1 L1064.7,685.1 L1067.7,685.1 L1070.7,685.1 L1073.8,685.1 L1076.8,685.1 L1079.8,685.0 L1082.8,685.0 L1085.8,685.0 L1088.8,685.0 L1091.8,685.0 L1094.9,685.0 L1097.9,685.0 L1100.9,685.0 L1103.9,685.0 L1106.9,684.9 L1109.9,684.9 L1112.9,684.9 L1115.9,684.9 L1119.0,684.9 L1122.0,684.9 L1125.0,684.9 L1128.0,684.9 L1137.0,676.0 L1137.0,676.0 L1140.0,695.4 L1143.0,697.1 L1146.1,698.8 L1149.1,700.5 L1152.1,702.1 L1155.1,703.7 L1158.1,705.4 L1161.2,706.9 L1164.2,708.5 L1167.2,710.1 L1170.2,711.6 L1173.2,713.2 L1176.3,714.7 L1179.3,716.2 L1182.3,717.6 L1185.3,719.1 L1188.3,720.5 L1191.4,722.0 L1194.4,723.4 L1197.4,724.8 L1200.4,726.2 L1203.4,727.5 L1206.5,728.9 L1209.5,730.2 L1212.5,731.5 L1215.5,732.8 L1218.5,734.1 L1221.6,735.4 L1224.6,736.7 L1227.6,737.9 L1230.6,739.2 L1233.6,740.4 L1236.7,741.6 L1239.7,742.8 L1242.7,744.0 L1245.7,745.2 L1248.7,746.3 L1251.8,747.5 L1254.8,748.6 L1257.8,749.7 L1260.8,750.8 L1263.8,751.9 L1266.9,753.0 L1269.9,754.1 L1272.9,755.1 L1275.9,756.2 L1278.9,757.2 L1282.0,758.3 L1285.0,759.3 L1288.0,760.3 L1291.0,761.3 L1294.0,762.2 L1297.1,763.2 L1300.1,764.2 L1303.1,765.1 L1306.1,766.1 L1309.1,767.0 L1312.2,767.9 L1315.2,768.8 L1318.2,769.7 L1321.2,770.6 L1324.2,771.5 L1327.3,772.4 L1330.3,773.2 L1333.3,774.1 L1336.3,774.9 L1339.4,775.7 L1342.4,776.6 L1345.4,777.4 L1348.4,778.2 L1351.4,779.0 L1354.5,779.8 L1357.5,780.6 L1360.5,781.3 L1363.5,782.1 L1366.5,782.8 L1369.6,783.6 L1372.6,784.3 L1375.6,785.1 L1378.6,785.8 L1381.6,786.5 L1384.7,787.2 L1387.7,787.9 L1390.7,788.6 L1393.7,789.3 L1396.7,789.9 L1399.8,790.6 L1402.8,791.3 L1405.8,791.9 L1408.8,792.6 L1411.8,793.2 L1414.9,793.8 L1417.9,794.5 L1420.9,795.1 L1423.9,795.7 L1426.9,796.3 L1430.0,796.9 L1433.0,797.5 L1436.0,798.1 L1439.0,798.7 L1442.0,799.2 L1445.1,799.8 L1448.1,800.3 L1451.1,800.9 L1454.1,801.4 L1457.1,802.0 L1460.2,802.5 L1463.2,803.1 L1466.2,803.6 L1469.2,804.1 L1472.2,804.6 L1475.3,805.1 L1478.3,805.6 L1481.3,806.1 L1484.3,806.6 L1487.3,807.1 L1490.4,807.6 L1493.4,808.0 L1496.4,808.5 L1499.4,809.0 L1502.4,809.4 L1505.5,809.9 L1508.5,810.3 L1511.5,810.8 L1514.5,811.2 L1517.5,811.7 L1520.6,812.1 L1523.6,812.5 L1526.6,812.9 L1529.6,813.3 L1532.6,813.8 L1535.7,814.2 L1538.7,814.6 L1541.7,815.0 L1544.7,815.4 L1547.7,815.7 L1550.8,816.1 L1553.8,816.5 L1556.8,816.9 L1559.8,817.3 L1562.8,817.6 L1565.9,818.0 L1568.9,818.4 L1571.9,818.7 L1574.9,819.1 L1577.9,819.4 L1581.0,819.8 L1584.0,820.1 L1587.0,820.4 L1590.0,820.8 L1593.0,821.1 L1596.1,821.4 L1599.1,821.7 L1602.1,822.1 L1605.1,822.4 L1608.1,822.7 L1611.2,823.0 L1614.2,823.3 L1617.2,823.6 L1620.2,823.9 L1623.2,824.2 L1626.3,824.5 L1629.3,824.8 L1632.3,825.1 L1635.3,825.4 L1638.3,825.6 L1641.4,825.9 L1644.4,826.2 L1647.4,826.5 L1650.4,826.7 L1653.4,827.0 L1656.5,827.2 L1659.5,827.5 L1662.5,827.8 L1665.5,828.0 L1668.5,828.3 L1671.6,828.5 L1674.6,828.8 L1677.6,829.0 L1680.6,829.2 L1683.6,829.5 L1686.7,829.7 L1689.7,829.9 L1692.7,830.2 L1695.7,830.4 L1698.8,830.6 L1701.8,830.8 L1704.8,831.1 L1707.8,831.3 L1710.8,831.5 L1713.9,831.7 L1716.9,831.9 L1719.9,832.1 L1722.9,832.3 L1725.9,832.5 L1729.0,832.7 L1732.0,832.9 L1735.0,833.1 L1738.0,833.3 L1741.0,833.5 L1744.1,833.7 L1747.1,833.9 L1750.1,834.1 L1753.1,834.3 L1756.1,834.4 L1759.2,834.6 L1762.2,834.8 L1765.2,835.0 L1768.2,835.2 L1771.2,835.3 L1774.3,835.5 L1777.3,835.7 L1780.3,835.8 L1783.3,836.0 L1786.3,836.2 L1789.4,836.3 L1792.4,836.5 L1795.4,836.6 L1798.4,836.8 L1801.4,836.9 L1804.5,837.1 L1807.5,837.3 L1810.5,837.4 L1813.5,837.5 L1816.5,837.7 L1819.6,837.8 L1822.6,838.0 L1825.6,838.1 L1828.6,838.3 L1831.6,838.4 L1834.7,838.5 L1837.7,838.7 L1840.7,838.8 L1843.7,838.9 L1846.7,839.1 L1849.8,839.2 L1852.8,839.3 L1855.8,839.5 L1858.8,839.6 L1861.8,839.7 L1864.9,839.8 L1867.9,839.9 L1870.9,840.1 L1873.9,840.2 L1876.9,840.3 L1880.0,840.4 L1883.0,840.5 L1886.0,840.6" fill="none" stroke="#ff0000" stroke-width="15.0" stroke-linecap="round" stroke-linejoin="round"/>
</g>
<g clip-path="url(#cp2)">
<g fill="#fff" stroke="#1a1a1a" stroke-width="3.9">
<rect x="229.0" y="1208.9" width="53.3" height="53.3"/>
<rect x="242.2" y="1148.3" width="53.3" height="53.3"/>
<rect x="245.2" y="1155.5" width="53.3" height="53.3"/>
<rect x="260.8" y="1099.7" width="53.3" height="53.3"/>
<rect x="277.1" y="1043.7" width="53.3" height="53.3"/>
<rect x="293.4" y="1025.3" width="53.3" height="53.3"/>
<rect x="309.7" y="1013.1" width="53.3" height="53.3"/>
<rect x="325.9" y="1009.3" width="53.3" height="53.3"/>
<rect x="342.2" y="1005.5" width="53.3" height="53.3"/>
<rect x="358.5" y="1000.9" width="53.3" height="53.3"/>
<rect x="374.8" y="995.0" width="53.3" height="53.3"/>
<rect x="391.1" y="991.3" width="53.3" height="53.3"/>
<rect x="407.4" y="987.3" width="53.3" height="53.3"/>
<rect x="423.6" y="983.3" width="53.3" height="53.3"/>
<rect x="439.9" y="980.4" width="53.3" height="53.3"/>
<rect x="456.2" y="977.4" width="53.3" height="53.3"/>
<rect x="472.5" y="973.8" width="53.3" height="53.3"/>
<rect x="488.8" y="973.8" width="53.3" height="53.3"/>
<rect x="505.1" y="972.9" width="53.3" height="53.3"/>
<rect x="521.3" y="970.0" width="53.3" height="53.3"/>
<rect x="537.6" y="967.2" width="53.3" height="53.3"/>
<rect x="553.9" y="966.4" width="53.3" height="53.3"/>
<rect x="570.2" y="964.2" width="53.3" height="53.3"/>
<rect x="586.5" y="961.3" width="53.3" height="53.3"/>
<rect x="602.8" y="961.3" width="53.3" height="53.3"/>
<rect x="619.0" y="962.0" width="53.3" height="53.3"/>
<rect x="635.3" y="962.0" width="53.3" height="53.3"/>
<rect x="651.6" y="956.9" width="53.3" height="53.3"/>
<rect x="667.9" y="956.9" width="53.3" height="53.3"/>
<rect x="684.2" y="953.2" width="53.3" height="53.3"/>
<rect x="700.5" y="951.6" width="53.3" height="53.3"/>
<rect x="716.7" y="950.5" width="53.3" height="53.3"/>
<rect x="733.0" y="949.6" width="53.3" height="53.3"/>
<rect x="749.3" y="948.6" width="53.3" height="53.3"/>
<rect x="765.6" y="947.4" width="53.3" height="53.3"/>
<rect x="781.9" y="945.3" width="53.3" height="53.3"/>
<rect x="798.2" y="943.5" width="53.3" height="53.3"/>
<rect x="814.4" y="943.1" width="53.3" height="53.3"/>
<rect x="830.7" y="942.9" width="53.3" height="53.3"/>
<rect x="847.0" y="942.6" width="53.3" height="53.3"/>
<rect x="863.3" y="942.1" width="53.3" height="53.3"/>
<rect x="879.6" y="940.2" width="53.3" height="53.3"/>
<rect x="895.9" y="937.9" width="53.3" height="53.3"/>
<rect x="912.1" y="936.6" width="53.3" height="53.3"/>
<rect x="928.4" y="935.7" width="53.3" height="53.3"/>
<rect x="944.7" y="934.9" width="53.3" height="53.3"/>
<rect x="961.0" y="934.1" width="53.3" height="53.3"/>
<rect x="977.3" y="933.3" width="53.3" height="53.3"/>
<rect x="993.6" y="932.3" width="53.3" height="53.3"/>
<rect x="1009.8" y="931.3" width="53.3" height="53.3"/>
<rect x="1026.1" y="930.3" width="53.3" height="53.3"/>
<rect x="1042.4" y="929.5" width="53.3" height="53.3"/>
<rect x="1058.7" y="928.7" width="53.3" height="53.3"/>
<rect x="1075.0" y="928.0" width="53.3" height="53.3"/>
<rect x="1091.3" y="927.4" width="53.3" height="53.3"/>
<rect x="1107.5" y="927.1" width="53.3" height="53.3"/>
<rect x="1123.8" y="926.9" width="53.3" height="53.3"/>
<rect x="1140.1" y="926.5" width="53.3" height="53.3"/>
<rect x="1156.4" y="924.7" width="53.3" height="53.3"/>
<rect x="1188.7" y="946.0" width="53.3" height="53.3"/>
<rect x="1202.7" y="990.7" width="53.3" height="53.3"/>
<rect x="1220.0" y="1030.0" width="53.3" height="53.3"/>
<rect x="1237.3" y="1044.0" width="53.3" height="53.3"/>
<rect x="1253.3" y="1050.0" width="53.3" height="53.3"/>
<rect x="1270.0" y="1058.0" width="53.3" height="53.3"/>
<rect x="1286.0" y="1063.3" width="53.3" height="53.3"/>
<rect x="1302.9" y="1071.6" width="53.3" height="53.3"/>
<rect x="1321.3" y="1078.9" width="53.3" height="53.3"/>
<rect x="1338.9" y="1082.6" width="53.3" height="53.3"/>
<rect x="1355.1" y="1088.5" width="53.3" height="53.3"/>
<rect x="1372.0" y="1092.9" width="53.3" height="53.3"/>
<rect x="1388.1" y="1097.3" width="53.3" height="53.3"/>
<rect x="1405.0" y="1100.2" width="53.3" height="53.3"/>
<rect x="1421.9" y="1101.7" width="53.3" height="53.3"/>
<rect x="1437.4" y="1104.6" width="53.3" height="53.3"/>
<rect x="1453.5" y="1107.6" width="53.3" height="53.3"/>
<rect x="1470.4" y="1108.3" width="53.3" height="53.3"/>
<rect x="1486.6" y="1110.5" width="53.3" height="53.3"/>
<rect x="1502.7" y="1114.9" width="53.3" height="53.3"/>
<rect x="1518.9" y="1117.9" width="53.3" height="53.3"/>
<rect x="1535.0" y="1120.1" width="53.3" height="53.3"/>
<rect x="1551.2" y="1123.7" width="53.3" height="53.3"/>
<rect x="1568.1" y="1124.5" width="53.3" height="53.3"/>
<rect x="1585.0" y="1125.2" width="53.3" height="53.3"/>
<rect x="1599.1" y="1121.1" width="53.3" height="53.3"/>
<rect x="1615.3" y="1122.5" width="53.3" height="53.3"/>
<rect x="1632.2" y="1124.0" width="53.3" height="53.3"/>
<rect x="1648.3" y="1131.4" width="53.3" height="53.3"/>
<rect x="1665.2" y="1131.4" width="53.3" height="53.3"/>
<rect x="1681.4" y="1131.4" width="53.3" height="53.3"/>
<rect x="1697.5" y="1133.6" width="53.3" height="53.3"/>
<rect x="1713.7" y="1133.0" width="53.3" height="53.3"/>
<rect x="1729.8" y="1132.2" width="53.3" height="53.3"/>
<rect x="1746.0" y="1132.2" width="53.3" height="53.3"/>
<rect x="1762.2" y="1131.4" width="53.3" height="53.3"/>
<rect x="1779.1" y="1138.0" width="53.3" height="53.3"/>
</g>
<path d="M239.0,1257.5 L242.0,1247.0 L245.0,1236.2 L248.0,1225.6 L251.1,1215.3 L254.1,1205.4 L257.1,1195.9 L260.1,1186.7 L263.1,1178.0 L266.1,1169.6 L269.1,1161.5 L272.1,1153.9 L275.2,1146.6 L278.2,1139.6 L281.2,1132.9 L284.2,1126.5 L287.2,1120.5 L290.2,1114.7 L293.2,1109.2 L296.2,1104.0 L299.3,1099.0 L302.3,1094.2 L305.3,1089.7 L308.3,1085.4 L311.3,1081.3 L314.3,1077.4 L317.3,1073.6 L320.3,1070.1 L323.4,1066.7 L326.4,1063.5 L329.4,1060.4 L332.4,1057.5 L335.4,1054.7 L338.4,1052.1 L341.4,1049.6 L344.4,1047.2 L347.5,1044.9 L350.5,1042.7 L353.5,1040.6 L356.5,1038.6 L359.5,1036.7 L362.5,1034.9 L365.5,1033.2 L368.5,1031.5 L371.6,1030.0 L374.6,1028.5 L377.6,1027.0 L380.6,1025.6 L383.6,1024.3 L386.6,1023.1 L389.6,1021.9 L392.6,1020.7 L395.7,1019.6 L398.7,1018.5 L401.7,1017.5 L404.7,1016.5 L407.7,1015.6 L410.7,1014.7 L413.7,1013.8 L416.7,1013.0 L419.8,1012.2 L422.8,1011.4 L425.8,1010.6 L428.8,1009.9 L431.8,1009.2 L434.8,1008.6 L437.8,1007.9 L440.8,1007.3 L443.9,1006.7 L446.9,1006.1 L449.9,1005.5 L452.9,1005.0 L455.9,1004.4 L458.9,1003.9 L461.9,1003.4 L464.9,1002.9 L468.0,1002.4 L471.0,1001.9 L474.0,1001.5 L477.0,1001.0 L480.0,1000.6 L483.0,1000.2 L486.0,999.8 L489.0,999.3 L492.1,998.9 L495.1,998.6 L498.1,998.2 L501.1,997.8 L504.1,997.4 L507.1,997.1 L510.1,996.7 L513.1,996.4 L516.2,996.0 L519.2,995.7 L522.2,995.3 L525.2,995.0 L528.2,994.7 L531.2,994.4 L534.2,994.1 L537.2,993.7 L540.3,993.4 L543.3,993.1 L546.3,992.8 L549.3,992.5 L552.3,992.2 L555.3,991.9 L558.3,991.7 L561.4,991.4 L564.4,991.1 L567.4,990.8 L570.4,990.5 L573.4,990.3 L576.4,990.0 L579.4,989.7 L582.4,989.4 L585.5,989.2 L588.5,988.9 L591.5,988.6 L594.5,988.4 L597.5,988.1 L600.5,987.9 L603.5,987.6 L606.5,987.3 L609.6,987.1 L612.6,986.8 L615.6,986.6 L618.6,986.3 L621.6,986.1 L624.6,985.8 L627.6,985.6 L630.6,985.3 L633.7,985.1 L636.7,984.9 L639.7,984.6 L642.7,984.4 L645.7,984.1 L648.7,983.9 L651.7,983.7 L654.7,983.4 L657.8,983.2 L660.8,983.0 L663.8,982.7 L666.8,982.5 L669.8,982.3 L672.8,982.0 L675.8,981.8 L678.8,981.6 L681.9,981.3 L684.9,981.1 L687.9,980.9 L690.9,980.7 L693.9,980.4 L696.9,980.2 L699.9,980.0 L702.9,979.8 L706.0,979.5 L709.0,979.3 L712.0,979.1 L715.0,978.9 L718.0,978.6 L721.0,978.4 L724.0,978.2 L727.0,978.0 L730.1,977.8 L733.1,977.6 L736.1,977.3 L739.1,977.1 L742.1,976.9 L745.1,976.7 L748.1,976.5 L751.1,976.3 L754.2,976.1 L757.2,975.8 L760.2,975.6 L763.2,975.4 L766.2,975.2 L769.2,975.0 L772.2,974.8 L775.2,974.6 L778.3,974.4 L781.3,974.2 L784.3,974.0 L787.3,973.8 L790.3,973.6 L793.3,973.4 L796.3,973.2 L799.3,973.0 L802.4,972.8 L805.4,972.6 L808.4,972.3 L811.4,972.1 L814.4,971.9 L817.4,971.7 L820.4,971.6 L823.4,971.4 L826.5,971.2 L829.5,971.0 L832.5,970.8 L835.5,970.6 L838.5,970.4 L841.5,970.2 L844.5,970.0 L847.5,969.8 L850.6,969.6 L853.6,969.4 L856.6,969.2 L859.6,969.0 L862.6,968.8 L865.6,968.6 L868.6,968.4 L871.6,968.3 L874.7,968.1 L877.7,967.9 L880.7,967.7 L883.7,967.5 L886.7,967.3 L889.7,967.1 L892.7,966.9 L895.8,966.8 L898.8,966.6 L901.8,966.4 L904.8,966.2 L907.8,966.0 L910.8,965.8 L913.8,965.7 L916.8,965.5 L919.9,965.3 L922.9,965.1 L925.9,964.9 L928.9,964.8 L931.9,964.6 L934.9,964.4 L937.9,964.2 L940.9,964.0 L944.0,963.9 L947.0,963.7 L950.0,963.5 L953.0,963.3 L956.0,963.2 L959.0,963.0 L962.0,962.8 L965.0,962.6 L968.1,962.5 L971.1,962.3 L974.1,962.1 L977.1,961.9 L980.1,961.8 L983.1,961.6 L986.1,961.4 L989.1,961.3 L992.2,961.1 L995.2,960.9 L998.2,960.8 L1001.2,960.6 L1004.2,960.4 L1007.2,960.3 L1010.2,960.1 L1013.2,959.9 L1016.3,959.8 L1019.3,959.6 L1022.3,959.4 L1025.3,959.3 L1028.3,959.1 L1031.3,958.9 L1034.3,958.8 L1037.3,958.6 L1040.4,958.4 L1043.4,958.3 L1046.4,958.1 L1049.4,958.0 L1052.4,957.8 L1055.4,957.6 L1058.4,957.5 L1061.4,957.3 L1064.5,957.2 L1067.5,957.0 L1070.5,956.8 L1073.5,956.7 L1076.5,956.5 L1079.5,956.4 L1082.5,956.2 L1085.5,956.1 L1088.6,955.9 L1091.6,955.8 L1094.6,955.6 L1097.6,955.4 L1100.6,955.3 L1103.6,955.1 L1106.6,955.0 L1109.6,954.8 L1112.7,954.7 L1115.7,954.5 L1118.7,954.4 L1121.7,954.2 L1124.7,954.1 L1127.7,953.9 L1130.7,953.8 L1133.7,953.6 L1136.8,953.5 L1139.8,953.3 L1142.8,953.2 L1145.8,953.0 L1148.8,952.9 L1151.8,952.8 L1154.8,952.6 L1157.8,952.5 L1160.9,952.3 L1163.9,952.2 L1166.9,952.0 L1169.9,951.9 L1172.9,951.7 L1175.9,951.6 L1178.9,951.5 L1181.9,951.3 L1185.0,951.2 L1188.0,951.0 L1191.0,950.9 L1194.0,950.7 L1200.5,950.7 L1203.5,957.8 L1206.5,964.9 L1209.6,972.0 L1212.6,979.2 L1215.6,986.4 L1218.6,993.5 L1221.7,1000.7 L1224.7,1008.1 L1227.7,1015.2 L1230.7,1021.3 L1233.8,1026.8 L1236.8,1032.0 L1239.8,1036.7 L1242.8,1041.3 L1245.9,1045.8 L1248.9,1050.3 L1251.9,1054.6 L1254.9,1058.5 L1258.0,1062.0 L1261.0,1064.9 L1264.0,1067.4 L1267.0,1069.6 L1270.1,1071.6 L1273.1,1073.5 L1276.1,1075.3 L1279.1,1077.1 L1282.2,1079.0 L1285.2,1080.8 L1288.2,1082.7 L1291.2,1084.6 L1294.3,1086.4 L1297.3,1088.1 L1300.3,1089.8 L1303.3,1091.4 L1306.4,1092.8 L1309.4,1094.2 L1312.4,1095.4 L1315.4,1096.6 L1318.5,1097.8 L1321.5,1098.9 L1324.5,1100.0 L1327.5,1101.0 L1330.5,1102.1 L1333.6,1103.0 L1336.6,1104.0 L1339.6,1104.9 L1342.6,1105.8 L1345.7,1106.7 L1348.7,1107.5 L1351.7,1108.3 L1354.7,1109.1 L1357.8,1109.9 L1360.8,1110.7 L1363.8,1111.5 L1366.8,1112.2 L1369.9,1112.9 L1372.9,1113.6 L1375.9,1114.3 L1378.9,1114.9 L1382.0,1115.6 L1385.0,1116.2 L1388.0,1116.8 L1391.0,1117.4 L1394.1,1118.0 L1397.1,1118.6 L1400.1,1119.2 L1403.1,1119.8 L1406.2,1120.3 L1409.2,1120.9 L1412.2,1121.5 L1415.2,1122.0 L1418.3,1122.5 L1421.3,1123.0 L1424.3,1123.6 L1427.3,1124.1 L1430.4,1124.6 L1433.4,1125.0 L1436.4,1125.5 L1439.4,1126.0 L1442.5,1126.5 L1445.5,1127.0 L1448.5,1127.5 L1451.5,1127.9 L1454.5,1128.4 L1457.6,1128.9 L1460.6,1129.4 L1463.6,1129.9 L1466.6,1130.4 L1469.7,1130.9 L1472.7,1131.4 L1475.7,1131.9 L1478.7,1132.4 L1481.8,1132.9 L1484.8,1133.4 L1487.8,1133.9 L1490.8,1134.4 L1493.9,1134.9 L1496.9,1135.4 L1499.9,1135.9 L1502.9,1136.4 L1506.0,1136.9 L1509.0,1137.4 L1512.0,1137.9 L1515.0,1138.3 L1518.1,1138.8 L1521.1,1139.2 L1524.1,1139.7 L1527.1,1140.1 L1530.2,1140.5 L1533.2,1140.9 L1536.2,1141.3 L1539.2,1141.7 L1542.3,1142.1 L1545.3,1142.5 L1548.3,1142.8 L1551.3,1143.2 L1554.4,1143.5 L1557.4,1143.9 L1560.4,1144.2 L1563.4,1144.6 L1566.4,1144.9 L1569.5,1145.3 L1572.5,1145.6 L1575.5,1145.9 L1578.5,1146.3 L1581.6,1146.6 L1584.6,1146.9 L1587.6,1147.2 L1590.6,1147.5 L1593.7,1147.8 L1596.7,1148.2 L1599.7,1148.5 L1602.7,1148.8 L1605.8,1149.1 L1608.8,1149.4 L1611.8,1149.7 L1614.8,1150.0 L1617.9,1150.4 L1620.9,1150.7 L1623.9,1151.0 L1626.9,1151.3 L1630.0,1151.6 L1633.0,1151.9 L1636.0,1152.3 L1639.0,1152.6 L1642.1,1152.9 L1645.1,1153.2 L1648.1,1153.5 L1651.1,1153.9 L1654.2,1154.2 L1657.2,1154.5 L1660.2,1154.8 L1663.2,1155.1 L1666.3,1155.4 L1669.3,1155.8 L1672.3,1156.1 L1675.3,1156.4 L1678.4,1156.7 L1681.4,1157.0 L1684.4,1157.3 L1687.4,1157.6 L1690.4,1157.9 L1693.5,1158.2 L1696.5,1158.5 L1699.5,1158.8 L1702.5,1159.0 L1705.6,1159.3 L1708.6,1159.6 L1711.6,1159.9 L1714.6,1160.1 L1717.7,1160.4 L1720.7,1160.6 L1723.7,1160.9 L1726.7,1161.1 L1729.8,1161.4 L1732.8,1161.6 L1735.8,1161.9 L1738.8,1162.1 L1741.9,1162.4 L1744.9,1162.6 L1747.9,1162.8 L1750.9,1163.1 L1754.0,1163.3 L1757.0,1163.5 L1760.0,1163.8 L1763.0,1164.0 L1766.1,1164.2 L1769.1,1164.4 L1772.1,1164.6 L1775.1,1164.8 L1778.2,1165.1 L1781.2,1165.3 L1784.2,1165.5 L1787.2,1165.7 L1790.3,1165.9 L1793.3,1166.1 L1796.3,1166.3 L1799.3,1166.4 L1802.4,1166.6 L1805.4,1166.8 L1808.4,1167.0" fill="none" stroke="#ff0000" stroke-width="15.0" stroke-linecap="round" stroke-linejoin="round"/>
</g>
<g stroke="#1a1a1a" stroke-width="4" fill="none" stroke-linecap="square">
<rect x="239.0" y="47.5" width="1734.5" height="1211.0"/>
<line x1="239.0" y1="451.5" x2="1973.5" y2="451.5"/>
<line x1="239.0" y1="855.0" x2="1973.5" y2="855.0"/>
</g>
<g fill="#fff" fill-opacity="0.65">
<rect x="410.7" y="45.0" width="3.2" height="5"/>
<rect x="584.0" y="45.0" width="3.2" height="5"/>
<rect x="757.4" y="45.0" width="3.2" height="5"/>
<rect x="930.7" y="45.0" width="3.2" height="5"/>
<rect x="1104.0" y="45.0" width="3.2" height="5"/>
<rect x="1277.4" y="45.0" width="3.2" height="5"/>
<rect x="1450.7" y="45.0" width="3.2" height="5"/>
<rect x="1624.0" y="45.0" width="3.2" height="5"/>
<rect x="1797.3" y="45.0" width="3.2" height="5"/>
</g>
<text x="178.24" y="469.30" font-size="63.0" style="font-family:'Liberation Sans',Arial,Helvetica,sans-serif" fill="#000">0</text>
<text x="143.38" y="359.26" font-size="63.0" style="font-family:'Liberation Sans',Arial,Helvetica,sans-serif" fill="#000">15</text>
<text x="143.38" y="249.22" font-size="63.0" style="font-family:'Liberation Sans',Arial,Helvetica,sans-serif" fill="#000">30</text>
<text x="143.38" y="139.18" font-size="63.0" style="font-family:'Liberation Sans',Arial,Helvetica,sans-serif" fill="#000">45</text>
<text x="178.24" y="872.80" font-size="63.0" style="font-family:'Liberation Sans',Arial,Helvetica,sans-serif" fill="#000">0</text>
<text x="143.38" y="762.76" font-size="63.0" style="font-family:'Liberation Sans',Arial,Helvetica,sans-serif" fill="#000">15</text>
<text x="143.38" y="652.72" font-size="63.0" style="font-family:'Liberation Sans',Arial,Helvetica,sans-serif" fill="#000">30</text>
<text x="143.38" y="542.68" font-size="63.0" style="font-family:'Liberation Sans',Arial,Helvetica,sans-serif" fill="#000">45</text>
<text x="178.24" y="1276.30" font-size="63.0" style="font-family:'Liberation Sans',Arial,Helvetica,sans-serif" fill="#000">0</text>
<text x="143.38" y="1166.26" font-size="63.0" style="font-family:'Liberation Sans',Arial,Helvetica,sans-serif" fill="#000">15</text>
<text x="143.38" y="1056.22" font-size="63.0" style="font-family:'Liberation Sans',Arial,Helvetica,sans-serif" fill="#000">30</text>
<text x="143.38" y="946.18" font-size="63.0" style="font-family:'Liberation Sans',Arial,Helvetica,sans-serif" fill="#000">45</text>
<text x="239.00" y="1333.2" font-size="63.0" text-anchor="middle" style="font-family:'Liberation Sans',Arial,Helvetica,sans-serif" fill="#000">0</text>
<text x="585.65" y="1333.2" font-size="63.0" text-anchor="middle" style="font-family:'Liberation Sans',Arial,Helvetica,sans-serif" fill="#000">100</text>
<text x="932.30" y="1333.2" font-size="63.0" text-anchor="middle" style="font-family:'Liberation Sans',Arial,Helvetica,sans-serif" fill="#000">200</text>
<text x="1278.95" y="1333.2" font-size="63.0" text-anchor="middle" style="font-family:'Liberation Sans',Arial,Helvetica,sans-serif" fill="#000">300</text>
<text x="1625.60" y="1333.2" font-size="63.0" text-anchor="middle" style="font-family:'Liberation Sans',Arial,Helvetica,sans-serif" fill="#000">400</text>
<text x="1972.25" y="1333.2" font-size="63.0" text-anchor="middle" style="font-family:'Liberation Sans',Arial,Helvetica,sans-serif" fill="#000">500</text>
<text transform="translate(111.22,359.79) rotate(-90) scale(1.0310,1)" font-size="86.04" style="font-family:'Liberation Sans',Arial,Helvetica,sans-serif" fill="#000">S (%)</text>
<text transform="translate(111.22,763.54) rotate(-90) scale(1.0310,1)" font-size="86.04" style="font-family:'Liberation Sans',Arial,Helvetica,sans-serif" fill="#000">S (%)</text>
<text transform="translate(111.22,1167.04) rotate(-90) scale(1.0310,1)" font-size="86.04" style="font-family:'Liberation Sans',Arial,Helvetica,sans-serif" fill="#000">S (%)</text>
<text transform="translate(945.93,1457.91) scale(1.0227,1)" font-size="86.57" style="font-family:'Liberation Sans',Arial,Helvetica,sans-serif;font-style:normal;font-weight:normal" fill="#000">Time (s)</text>
<text transform="translate(1740.74,133.62) scale(0.9846,1)" font-size="62.50" style="font-family:'Liberation Sans',Arial,Helvetica,sans-serif;font-style:normal;font-weight:normal" fill="#000">350 °C</text>
<text transform="translate(1752.93,544.12) scale(0.9862,1)" font-size="62.50" style="font-family:'Liberation Sans',Arial,Helvetica,sans-serif;font-style:normal;font-weight:normal" fill="#000">300 °C</text>
<text x="1741.38" y="946.12" font-size="62.50" style="font-family:'Liberation Sans',Arial,Helvetica,sans-serif;font-style:normal;font-weight:normal" fill="#000">250 °C</text>
<g stroke="#000" stroke-width="1.6">
<text transform="translate(307.63,141.10) scale(0.7745,1)" font-size="60.37" style="font-family:'Liberation Sans',Arial,Helvetica,sans-serif;font-style:normal;font-weight:normal" fill="#000">a</text>
<text transform="translate(305.02,521.14) scale(0.9725,1)" font-size="64.46" style="font-family:'Liberation Sans',Arial,Helvetica,sans-serif;font-style:normal;font-weight:normal" fill="#000">b</text>
<text transform="translate(309.22,949.38) scale(0.8555,1)" font-size="63.66" style="font-family:'Liberation Sans',Arial,Helvetica,sans-serif;font-style:normal;font-weight:normal" fill="#000">c</text>
</g>
<text transform="translate(547.78,112.37) scale(1.0142,1)" font-size="49.50" style="font-family:'Liberation Sans',Arial,Helvetica,sans-serif;font-style:normal;font-weight:normal" fill="#000">Experimental data</text>
<text transform="translate(1124.35,112.26) scale(1.0318,1)" font-size="49.07" style="font-family:'Liberation Sans',Arial,Helvetica,sans-serif;font-style:normal;font-weight:normal" fill="#000">Fit according to</text>
<line x1="419" y1="96" x2="534" y2="96" stroke="#000" stroke-width="12.5" stroke-linecap="round"/>
<rect x="454.2" y="71.6" width="47" height="48.3" rx="2" fill="#fff" stroke="#2a2a2a" stroke-width="3.8"/>
<line x1="998.5" y1="96.2" x2="1110.5" y2="96.2" stroke="#ff0000" stroke-width="9.5" stroke-linecap="round"/>
<g stroke="#262626" stroke-width="0.9" stroke-linejoin="round">
<text transform="translate(550.05,203.40) scale(0.9130,1)" font-size="45.30" style="font-family:'Liberation Serif','Times New Roman',serif;font-style:italic;font-weight:normal" fill="#262626">S</text>
<text transform="translate(586.18,207.29) scale(1.1594,1)" font-size="50.27" style="font-family:'Liberation Serif','Times New Roman',serif;font-style:normal;font-weight:normal" fill="#262626">=</text>
<text transform="translate(633.39,203.40) scale(1.0171,1)" font-size="45.30" style="font-family:'Liberation Serif','Times New Roman',serif;font-style:italic;font-weight:normal" fill="#262626">S</text>
<text transform="translate(656.08,212.51) scale(1.2564,1)" font-size="28.24" style="font-family:'Liberation Serif','Times New Roman',serif;font-style:normal;font-weight:normal" fill="#262626">0</text>
<text transform="translate(682.19,214.38) scale(0.5690,1)" font-size="88.67" style="font-family:'Liberation Serif','Times New Roman',serif;font-style:normal;font-weight:normal" fill="#262626">{</text>
<text transform="translate(703.76,203.38) scale(0.9543,1)" font-size="48.64" style="font-family:'Liberation Serif','Times New Roman',serif;font-style:italic;font-weight:normal" fill="#262626">w</text>
<text transform="translate(745.60,214.55) scale(0.5152,1)" font-size="87.34" style="font-family:'Liberation Serif','Times New Roman',serif;font-style:normal;font-weight:normal" fill="#262626">[</text>
<text transform="translate(763.00,203.70) scale(0.9738,1)" font-size="46.21" style="font-family:'Liberation Serif','Times New Roman',serif;font-style:normal;font-weight:normal" fill="#262626">1</text>
<text transform="translate(795.68,205.88) scale(1.2671,1)" font-size="46.00" style="font-family:'Liberation Serif','Times New Roman',serif;font-style:normal;font-weight:normal" fill="#262626">−</text>
<text transform="translate(839.54,203.39) scale(1.0701,1)" font-size="46.64" style="font-family:'Liberation Serif','Times New Roman',serif;font-style:italic;font-weight:normal" fill="#262626">e</text>
<text transform="translate(866.71,171.74) scale(1.2168,1)" font-size="28.00" style="font-family:'Liberation Serif','Times New Roman',serif;font-style:normal;font-weight:normal" fill="#262626">−</text>
<text transform="translate(887.82,173.09) scale(1.2684,1)" font-size="31.74" style="font-family:'Liberation Serif','Times New Roman',serif;font-style:italic;font-weight:normal" fill="#262626">t</text>
<text transform="translate(900.90,193.15) scale(1.2036,1)" font-size="51.98" style="font-family:'Liberation Serif','Times New Roman',serif;font-style:normal;font-weight:normal" fill="#262626">/</text>
<text transform="translate(920.10,191.06) scale(1.1447,1)" font-size="35.92" style="font-family:'Liberation Serif','Times New Roman',serif;font-style:italic;font-weight:normal" fill="#262626">τ</text>
<text transform="translate(935.87,199.20) scale(1.3598,1)" font-size="18.94" style="font-family:'Liberation Serif','Times New Roman',serif;font-style:normal;font-weight:normal" fill="#262626">1</text>
<text transform="translate(953.49,214.55) scale(0.5203,1)" font-size="87.34" style="font-family:'Liberation Serif','Times New Roman',serif;font-style:normal;font-weight:normal" fill="#262626">]</text>
<text transform="translate(980.19,209.41) scale(1.0524,1)" font-size="53.14" style="font-family:'Liberation Serif','Times New Roman',serif;font-style:normal;font-weight:normal" fill="#262626">+</text>
<text transform="translate(1023.44,202.12) scale(1.2694,1)" font-size="48.20" style="font-family:'Liberation Serif','Times New Roman',serif;font-style:normal;font-weight:normal" fill="#262626">(</text>
<text transform="translate(1042.23,203.00) scale(1.0918,1)" font-size="43.03" style="font-family:'Liberation Serif','Times New Roman',serif;font-style:normal;font-weight:normal" fill="#262626">1</text>
<text transform="translate(1077.80,205.68) scale(1.2112,1)" font-size="46.00" style="font-family:'Liberation Serif','Times New Roman',serif;font-style:normal;font-weight:normal" fill="#262626">−</text>
<text transform="translate(1121.45,202.69) scale(1.0192,1)" font-size="45.86" style="font-family:'Liberation Serif','Times New Roman',serif;font-style:italic;font-weight:normal" fill="#262626">w</text>
<text transform="translate(1154.92,202.12) scale(1.1711,1)" font-size="48.20" style="font-family:'Liberation Serif','Times New Roman',serif;font-style:normal;font-weight:normal" fill="#262626">)</text>
<text transform="translate(1181.15,215.72) scale(0.5841,1)" font-size="89.88" style="font-family:'Liberation Serif','Times New Roman',serif;font-style:normal;font-weight:normal" fill="#262626">[</text>
<text transform="translate(1197.13,203.00) scale(1.1707,1)" font-size="43.03" style="font-family:'Liberation Serif','Times New Roman',serif;font-style:normal;font-weight:normal" fill="#262626">1</text>
<text transform="translate(1231.57,205.68) scale(1.3183,1)" font-size="46.00" style="font-family:'Liberation Serif','Times New Roman',serif;font-style:normal;font-weight:normal" fill="#262626">−</text>
<text transform="translate(1276.16,203.20) scale(1.0870,1)" font-size="45.21" style="font-family:'Liberation Serif','Times New Roman',serif;font-style:italic;font-weight:normal" fill="#262626">e</text>
<text transform="translate(1301.92,171.54) scale(1.3622,1)" font-size="28.00" style="font-family:'Liberation Serif','Times New Roman',serif;font-style:normal;font-weight:normal" fill="#262626">−</text>
<text transform="translate(1321.07,173.41) scale(1.9496,1)" font-size="28.95" style="font-family:'Liberation Serif','Times New Roman',serif;font-style:italic;font-weight:normal" fill="#262626">t</text>
<text transform="translate(1339.00,193.14) scale(1.2013,1)" font-size="54.21" style="font-family:'Liberation Serif','Times New Roman',serif;font-style:normal;font-weight:normal" fill="#262626">/</text>
<text transform="translate(1356.66,189.78) scale(1.3148,1)" font-size="32.54" style="font-family:'Liberation Serif','Times New Roman',serif;font-style:italic;font-weight:normal" fill="#262626">τ</text>
<text transform="translate(1374.28,199.50) scale(1.2121,1)" font-size="19.80" style="font-family:'Liberation Serif','Times New Roman',serif;font-style:normal;font-weight:normal" fill="#262626">2</text>
<text transform="translate(1389.29,215.72) scale(0.4712,1)" font-size="89.88" style="font-family:'Liberation Serif','Times New Roman',serif;font-style:normal;font-weight:normal" fill="#262626">]</text>
<text transform="translate(1399.14,214.71) scale(0.6862,1)" font-size="88.43" style="font-family:'Liberation Serif','Times New Roman',serif;font-style:normal;font-weight:normal" fill="#262626">}</text>
<text transform="translate(549.91,295.80) scale(0.9713,1)" font-size="45.45" style="font-family:'Liberation Serif','Times New Roman',serif;font-style:italic;font-weight:normal" fill="#262626">S</text>
<text transform="translate(577.59,281.39) scale(1.4989,1)" font-size="20.89" style="font-family:'Liberation Sans',Arial,Helvetica,sans-serif;font-style:normal;font-weight:bold" fill="#262626">*</text>
<text transform="translate(606.07,303.50) scale(0.9750,1)" font-size="60.00" style="font-family:'Liberation Serif','Times New Roman',serif;font-style:normal;font-weight:normal" fill="#262626">=</text>
<text transform="translate(652.29,295.80) scale(1.0138,1)" font-size="45.45" style="font-family:'Liberation Serif','Times New Roman',serif;font-style:italic;font-weight:normal" fill="#262626">S</text>
<text transform="translate(674.15,305.08) scale(0.9511,1)" font-size="32.79" style="font-family:'Liberation Serif','Times New Roman',serif;font-style:normal;font-weight:normal" fill="#262626">0</text>
<text transform="translate(695.27,299.95) scale(0.8970,1)" font-size="52.14" style="font-family:'Liberation Serif','Times New Roman',serif;font-style:normal;font-weight:normal" fill="#262626">[</text>
<text transform="translate(712.45,295.79) scale(1.0213,1)" font-size="46.07" style="font-family:'Liberation Serif','Times New Roman',serif;font-style:italic;font-weight:normal" fill="#262626">w</text>
<text transform="translate(749.08,281.00) scale(1.9805,1)" font-size="16.88" style="font-family:'Liberation Sans',Arial,Helvetica,sans-serif;font-style:normal;font-weight:bold" fill="#262626">*</text>
<text transform="translate(764.39,296.58) scale(1.0788,1)" font-size="47.47" style="font-family:'Liberation Serif','Times New Roman',serif;font-style:italic;font-weight:normal" fill="#262626">e</text>
<text transform="translate(790.72,254.24) scale(1.5153,1)" font-size="28.00" style="font-family:'Liberation Serif','Times New Roman',serif;font-style:normal;font-weight:normal" fill="#262626">−</text>
<text transform="translate(814.29,253.36) scale(1.0766,1)" font-size="35.93" style="font-family:'Liberation Serif','Times New Roman',serif;font-style:italic;font-weight:normal" fill="#262626">t</text>
<text transform="translate(826.00,279.12) scale(1.1737,1)" font-size="56.73" style="font-family:'Liberation Serif','Times New Roman',serif;font-style:normal;font-weight:normal" fill="#262626">/</text>
<text transform="translate(842.28,281.77) scale(1.3148,1)" font-size="34.86" style="font-family:'Liberation Serif','Times New Roman',serif;font-style:italic;font-weight:normal" fill="#262626">τ</text>
<text transform="translate(860.49,290.30) scale(1.1359,1)" font-size="22.42" style="font-family:'Liberation Serif','Times New Roman',serif;font-style:normal;font-weight:normal" fill="#262626">1</text>
<text x="863.38" y="271.41" font-size="18.48" style="font-family:'Liberation Sans',Arial,Helvetica,sans-serif;font-style:normal;font-weight:bold" fill="#262626">*</text>
<text x="888.08" y="301.93" font-size="58.29" style="font-family:'Liberation Serif','Times New Roman',serif;font-style:normal;font-weight:normal" fill="#262626">+</text>
<text transform="translate(930.87,294.42) scale(1.3014,1)" font-size="44.89" style="font-family:'Liberation Serif','Times New Roman',serif;font-style:normal;font-weight:normal" fill="#262626">(</text>
<text transform="translate(951.57,296.50) scale(0.8436,1)" font-size="46.97" style="font-family:'Liberation Serif','Times New Roman',serif;font-style:normal;font-weight:normal" fill="#262626">1</text>
<text transform="translate(985.98,297.38) scale(1.2671,1)" font-size="46.00" style="font-family:'Liberation Serif','Times New Roman',serif;font-style:normal;font-weight:normal" fill="#262626">−</text>
<text transform="translate(1029.75,295.46) scale(0.9203,1)" font-size="50.79" style="font-family:'Liberation Serif','Times New Roman',serif;font-style:italic;font-weight:normal" fill="#262626">w</text>
<text transform="translate(1063.67,282.36) scale(1.6088,1)" font-size="21.43" style="font-family:'Liberation Sans',Arial,Helvetica,sans-serif;font-style:normal;font-weight:bold" fill="#262626">*</text>
<text transform="translate(1082.33,294.56) scale(1.0621,1)" font-size="44.23" style="font-family:'Liberation Serif','Times New Roman',serif;font-style:normal;font-weight:normal" fill="#262626">)</text>
<text x="1101.06" y="295.48" font-size="48.70" style="font-family:'Liberation Serif','Times New Roman',serif;font-style:italic;font-weight:normal" fill="#262626">e</text>
<text transform="translate(1126.71,255.04) scale(1.4464,1)" font-size="28.00" style="font-family:'Liberation Serif','Times New Roman',serif;font-style:normal;font-weight:normal" fill="#262626">−</text>
<text transform="translate(1148.49,254.47) scale(1.4677,1)" font-size="35.23" style="font-family:'Liberation Serif','Times New Roman',serif;font-style:italic;font-weight:normal" fill="#262626">t</text>
<text transform="translate(1163.80,279.03) scale(1.1600,1)" font-size="56.14" style="font-family:'Liberation Serif','Times New Roman',serif;font-style:normal;font-weight:normal" fill="#262626">/</text>
<text transform="translate(1180.36,281.52) scale(1.5457,1)" font-size="27.68" style="font-family:'Liberation Serif','Times New Roman',serif;font-style:italic;font-weight:normal" fill="#262626">τ</text>
<text transform="translate(1197.18,289.90) scale(1.3549,1)" font-size="20.85" style="font-family:'Liberation Serif','Times New Roman',serif;font-style:normal;font-weight:normal" fill="#262626">2</text>
<text transform="translate(1199.88,271.83) scale(1.0114,1)" font-size="18.21" style="font-family:'Liberation Sans',Arial,Helvetica,sans-serif;font-style:normal;font-weight:bold" fill="#262626">*</text>
<text transform="translate(1213.91,299.55) scale(0.9268,1)" font-size="51.41" style="font-family:'Liberation Serif','Times New Roman',serif;font-style:normal;font-weight:normal" fill="#262626">]</text>
</g>
</svg>
</body></html>
